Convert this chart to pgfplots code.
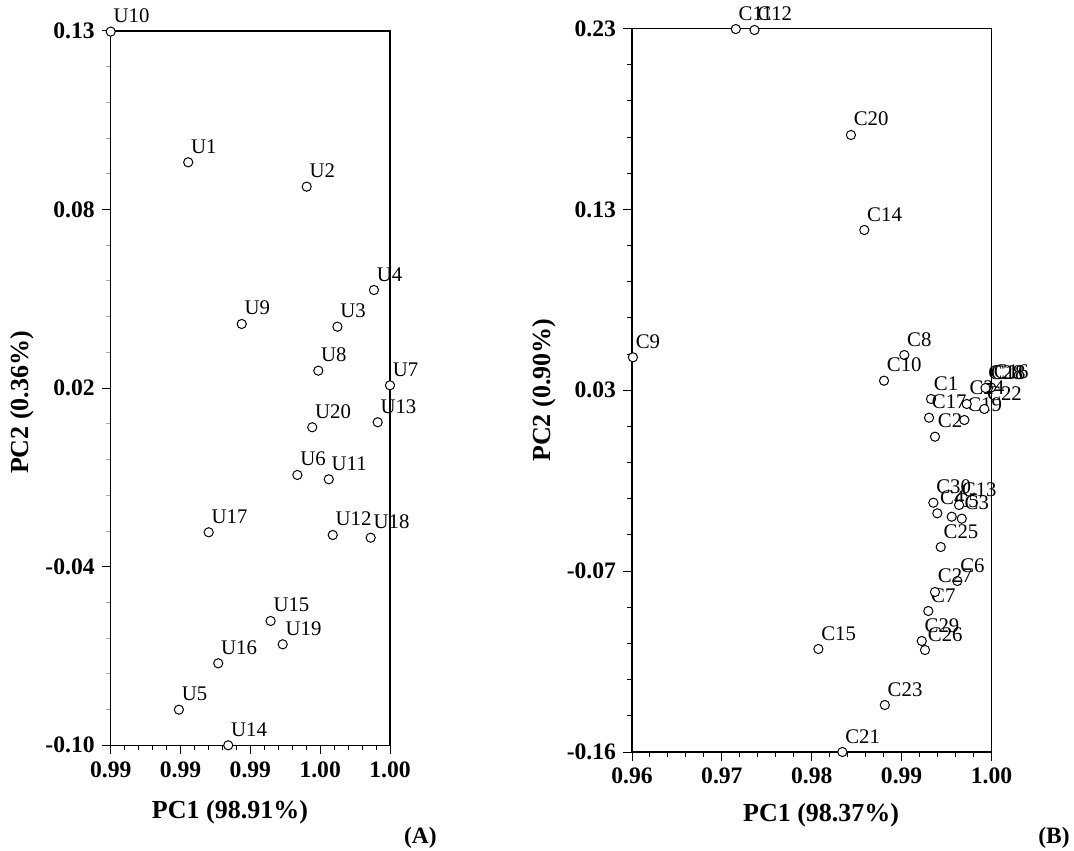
\documentclass[border=0pt]{standalone}
\usepackage{fontspec}
\setmainfont{Liberation Serif}
\usepackage{pgfplots}
\pgfplotsset{compat=1.18}
\usepackage{pgfplotstable}

\pgfplotstableread{
x y label
0.98933 0.08772 U1
0.99442 0.07987 U2
0.99574 0.03479 U3
0.99731 0.04660 U4
0.98893 -0.08853 U5
0.99402 -0.01296 U6
0.99800 0.01592 U7
0.99492 0.02062 U8
0.99163 0.03566 U9
0.98600 0.12980 U10
0.99537 -0.01435 U11
0.99554 -0.03228 U12
0.99747 0.00401 U13
0.99105 -0.10000 U14
0.99287 -0.05997 U15
0.99062 -0.07360 U16
0.99021 -0.03141 U17
0.99717 -0.03315 U18
0.99339 -0.06748 U19
0.99466 0.00240 U20
}\dataA

\pgfplotstableread{
x y label
0.99327 0.03028 C1
0.99371 0.00996 C2
0.99669 -0.03424 C3
0.99397 -0.03133 C4
0.99557 -0.03317 C5
0.99620 -0.06783 C6
0.99297 -0.08400 C7
0.99030 0.05400 C8
0.96010 0.05276 C9
0.98804 0.04015 C10
0.97155 0.22970 C11
0.97363 0.22920 C12
0.99639 -0.02686 C13
0.98585 0.12138 C14
0.98074 -0.10448 C15
0.99995 0.03648 C16
0.99305 0.02020 C17
0.99961 0.03621 C18
0.99698 0.01896 C19
0.98436 0.17259 C20
0.98341 -0.16000 C21
0.99920 0.02489 C22
0.98813 -0.13467 C23
0.99724 0.02759 C24
0.99435 -0.04950 C25
0.99260 -0.10502 C26
0.99371 -0.07375 C27
0.99933 0.03621 C28
0.99224 -0.10017 C29
0.99353 -0.02562 C30
}\dataB

\pgfplotsset{pcastyle/.style={
  scale only axis, anchor=south west, clip=false,
  axis line style={line width=0.6pt},
  tick align=outside, xtick pos=bottom, ytick pos=left,
  major tick length=4.5pt, minor tick length=2.5pt, minor tick num=4,
  tick style={black, line width=0.5pt},
  ticklabel style={font=\fontsize{11.8}{13}\selectfont\bfseries},
  label style={font=\fontsize{13}{15}\selectfont\bfseries},
  nodes near coords, point meta=explicit symbolic,
  every node near coord/.append style={font=\fontsize{10.4}{12}\selectfont, anchor=base west, inner sep=0pt, xshift=1.2pt, yshift=4.5pt, text=black},
}}

\begin{document}
\begin{tikzpicture}
\useasboundingbox (0,0) rectangle (537pt,425pt);
\begin{axis}[pcastyle,
  at={(55.35pt,52.35pt)}, width=139.65pt, height=357.15pt,
  xmin=0.986, xmax=0.998, ymin=-0.10, ymax=0.13,
  xtick={0.986,0.989,0.992,0.995,0.998}, xticklabels={0.99,0.99,0.99,1.00,1.00},
  ytick={-0.10,-0.0425,0.015,0.0725,0.13}, yticklabels={-0.10,-0.04,0.02,0.08,0.13},
  minor y tick style={black!35},
  xlabel={PC1 (98.91\%)}, ylabel={PC2 (0.36\%)},
  xlabel style={at={(axis description cs:0.427,-0.0934)}, anchor=center},
  ylabel style={at={(axis description cs:-0.316,0.48)}, anchor=center},
]
\addplot[only marks, mark=*, mark size=2.3pt, mark options={fill=white, draw=black, line width=0.5pt}] table[x=x, y=y, meta=label] {\dataA};
\end{axis}
\begin{axis}[pcastyle,
  at={(316pt,49pt)}, width=179.75pt, height=361.75pt,
  xmin=0.96, xmax=1.00, ymin=-0.16, ymax=0.23,
  xtick={0.96,0.97,0.98,0.99,1.00}, xticklabels={0.96,0.97,0.98,0.99,1.00},
  ytick={-0.16,-0.0625,0.035,0.1325,0.23}, yticklabels={-0.16,-0.07,0.03,0.13,0.23},
  xlabel={PC1 (98.37\%)}, ylabel={PC2 (0.90\%)},
  xlabel style={at={(axis description cs:0.526,-0.0871)}, anchor=center},
  ylabel style={at={(axis description cs:-0.245,0.50)}, anchor=center},
]
\addplot[only marks, mark=*, mark size=2.3pt, mark options={fill=white, draw=black, line width=0.5pt}] table[x=x, y=y, meta=label] {\dataB};
\end{axis}
\node[anchor=base east, font=\fontsize{11.7}{13}\selectfont\bfseries, inner sep=0pt] at (218.5pt,3.5pt) {(A)};
\node[anchor=base east, font=\fontsize{11.7}{13}\selectfont\bfseries, inner sep=0pt] at (535pt,3.5pt) {(B)};
\end{tikzpicture}
\end{document}
